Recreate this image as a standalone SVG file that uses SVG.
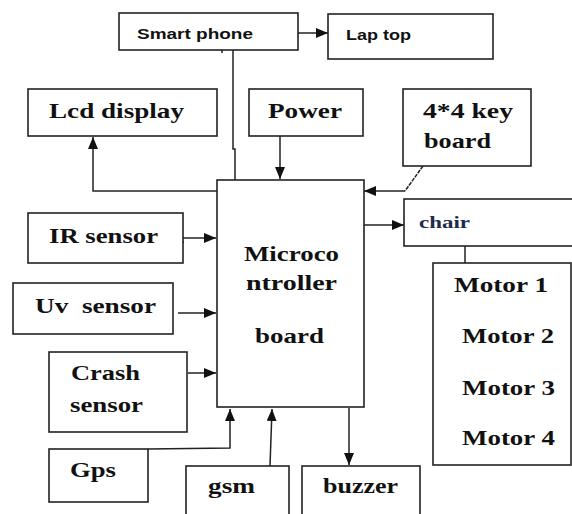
<svg xmlns="http://www.w3.org/2000/svg" width="572" height="514" viewBox="0 0 572 514">
<defs>
<marker id="ah" markerWidth="12" markerHeight="10" refX="12" refY="5" orient="auto" markerUnits="userSpaceOnUse">
<path d="M0,0 L12,5 L0,10 Z" fill="#111"/>
</marker>
</defs>
<style>
.box{fill:#fff;stroke:#222;stroke-width:1.6}
.c{stroke:#222;stroke-width:1.5;fill:none}
.a{stroke:#222;stroke-width:1.5;fill:none;marker-end:url(#ah)}
</style>
<rect width="572" height="514" fill="#fff"/>
<g id="connectors">
<line class="a" x1="298" y1="33" x2="328" y2="33"/>
<polyline class="c" points="233,50 233,149 235,149 235,180"/>
<line class="c" x1="222" y1="50" x2="222" y2="53"/>
<polyline class="a" points="217,191 93,191 93,137"/>
<line class="a" x1="280" y1="136" x2="280" y2="179"/>
<line class="c" x1="423" y1="166" x2="405" y2="191" stroke-dasharray="4,1" stroke-width="1.2"/>
<line class="a" x1="405" y1="191" x2="364" y2="191"/>
<line class="a" x1="364" y1="225" x2="404" y2="225"/>
<line class="c" x1="465" y1="246" x2="465" y2="263"/>
<line class="a" x1="183" y1="238" x2="216" y2="238"/>
<line class="c" x1="183" y1="241" x2="183" y2="243"/>
<line class="a" x1="178" y1="313" x2="216" y2="313"/>
<line class="a" x1="188" y1="373" x2="216" y2="373"/>
<polyline class="a" points="148,449 230,448 230,409"/>
<line class="a" x1="270" y1="466" x2="272" y2="409"/>
<line class="a" x1="349" y1="408" x2="349" y2="465"/>
<rect x="347" y="237" width="2" height="2" fill="#333"/>
</g>
<g id="smartphone"><rect class="box" x="119" y="13" width="179" height="37"/><text font-family="Liberation Sans" font-weight="bold" font-size="14" fill="#111" x="137" y="39" textLength="116" lengthAdjust="spacingAndGlyphs">Smart phone</text></g>
<g id="laptop"><rect class="box" x="328" y="14" width="165" height="45"/><text font-family="Liberation Sans" font-weight="bold" font-size="14" fill="#111" x="346" y="40" textLength="65" lengthAdjust="spacingAndGlyphs">Lap top</text></g>
<g id="lcd"><rect class="box" x="28" y="89" width="189" height="47"/><text font-family="Liberation Serif" font-weight="bold" font-size="22" fill="#111" x="49" y="118" textLength="135" lengthAdjust="spacingAndGlyphs">Lcd display</text></g>
<g id="power"><rect class="box" x="249" y="89" width="114" height="47"/><text font-family="Liberation Serif" font-weight="bold" font-size="22" fill="#111" x="268" y="118" textLength="74" lengthAdjust="spacingAndGlyphs">Power</text></g>
<g id="keyboard"><rect class="box" x="403" y="89" width="128" height="77"/><text font-family="Liberation Serif" font-weight="bold" font-size="22" fill="#111" x="423" y="118" textLength="90" lengthAdjust="spacingAndGlyphs">4*4 key</text><text font-family="Liberation Serif" font-weight="bold" font-size="22" fill="#111" x="424" y="148" textLength="67" lengthAdjust="spacingAndGlyphs">board</text></g>
<g id="micro"><rect class="box" x="217" y="180" width="147" height="227"/><text font-family="Liberation Serif" font-weight="bold" font-size="22" fill="#111" x="244" y="261" textLength="95" lengthAdjust="spacingAndGlyphs">Microco</text><text font-family="Liberation Serif" font-weight="bold" font-size="22" fill="#111" x="246" y="290" textLength="91" lengthAdjust="spacingAndGlyphs">ntroller</text><text font-family="Liberation Serif" font-weight="bold" font-size="22" fill="#111" x="255" y="343" textLength="69" lengthAdjust="spacingAndGlyphs">board</text></g>
<g id="chair"><rect class="box" x="404" y="199" width="180" height="47"/><text font-family="Liberation Serif" font-weight="bold" font-size="17" fill="#1e2a4a" x="419" y="228" textLength="51" lengthAdjust="spacingAndGlyphs">chair</text></g>
<g id="motors"><rect class="box" x="433" y="263" width="138" height="202"/><text font-family="Liberation Serif" font-weight="bold" font-size="22" fill="#111" x="454" y="292" textLength="94" lengthAdjust="spacingAndGlyphs">Motor 1</text><text font-family="Liberation Serif" font-weight="bold" font-size="22" fill="#111" x="462" y="343" textLength="92" lengthAdjust="spacingAndGlyphs">Motor 2</text><text font-family="Liberation Serif" font-weight="bold" font-size="22" fill="#111" x="462" y="395" textLength="93" lengthAdjust="spacingAndGlyphs">Motor 3</text><text font-family="Liberation Serif" font-weight="bold" font-size="22" fill="#111" x="462" y="445" textLength="93" lengthAdjust="spacingAndGlyphs">Motor 4</text></g>
<g id="ir"><rect class="box" x="28" y="213" width="155" height="50"/><text font-family="Liberation Serif" font-weight="bold" font-size="22" fill="#111" x="49" y="243" textLength="109" lengthAdjust="spacingAndGlyphs">IR sensor</text></g>
<g id="uv"><rect class="box" x="13" y="283" width="160" height="51"/><text font-family="Liberation Serif" font-weight="bold" font-size="22" fill="#111" x="35" y="313" textLength="121" lengthAdjust="spacingAndGlyphs" xml:space="preserve">Uv  sensor</text></g>
<g id="crash"><rect class="box" x="49" y="352" width="138" height="80"/><text font-family="Liberation Serif" font-weight="bold" font-size="22" fill="#111" x="71" y="380" textLength="69" lengthAdjust="spacingAndGlyphs">Crash</text><text font-family="Liberation Serif" font-weight="bold" font-size="22" fill="#111" x="70" y="412" textLength="73" lengthAdjust="spacingAndGlyphs">sensor</text></g>
<g id="gps"><rect class="box" x="49" y="449" width="99" height="53"/><text font-family="Liberation Serif" font-weight="bold" font-size="22" fill="#111" x="70" y="477" textLength="46" lengthAdjust="spacingAndGlyphs">Gps</text></g>
<g id="gsm"><rect class="box" x="186" y="466" width="103" height="60"/><text font-family="Liberation Serif" font-weight="bold" font-size="22" fill="#111" x="208" y="493" textLength="47" lengthAdjust="spacingAndGlyphs">gsm</text></g>
<g id="buzzer"><rect class="box" x="302" y="466" width="118" height="60"/><text font-family="Liberation Serif" font-weight="bold" font-size="22" fill="#111" x="323" y="493" textLength="75" lengthAdjust="spacingAndGlyphs">buzzer</text></g>
</svg>
